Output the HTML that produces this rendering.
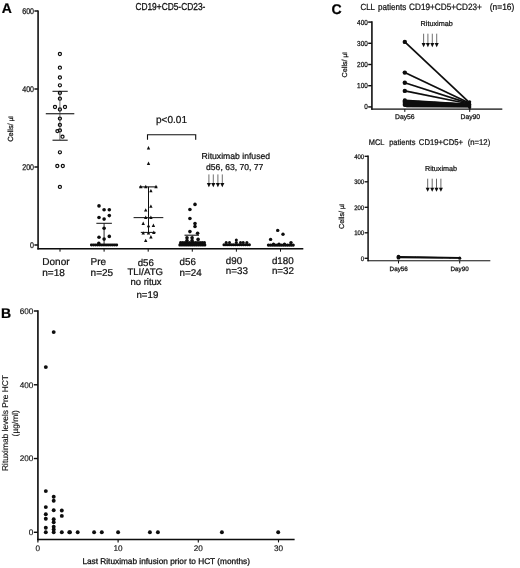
<!DOCTYPE html>
<html><head><meta charset="utf-8"><title>Figure</title>
<style>
html,body{margin:0;padding:0;background:#fff;}
body{width:520px;height:568px;overflow:hidden;font-family:"Liberation Sans",sans-serif;}
svg{display:block;font-family:"Liberation Sans",sans-serif;text-rendering:geometricPrecision;}
</style></head><body>
<svg width="520" height="568" viewBox="0 0 520 568">
<defs><filter id="bl" x="0" y="0" width="100%" height="100%" filterUnits="userSpaceOnUse"><feGaussianBlur stdDeviation="0.35"/></filter></defs>
<rect width="520" height="568" fill="#fff"/>
<g filter="url(#bl)">
<text x="1.70" y="13.10" font-size="14" text-anchor="start" font-weight="bold" fill="#000" stroke="#000" stroke-width="0.24">A</text>
<text transform="translate(135.40 10.45) scale(0.8333 1)" font-size="10.04" text-anchor="start" font-weight="normal" fill="#111" stroke="#111" stroke-width="0.3">CD19+CD5-CD23-</text>
<line x1="38.10" y1="10.40" x2="38.10" y2="249.50" stroke="#0a0a0a" stroke-width="1.55" stroke-linecap="butt"/>
<line x1="37.40" y1="248.75" x2="303.30" y2="248.75" stroke="#0a0a0a" stroke-width="1.3" stroke-linecap="butt"/>
<line x1="34.40" y1="11.00" x2="38.10" y2="11.00" stroke="#0a0a0a" stroke-width="1.4" stroke-linecap="butt"/>
<text transform="translate(34.00 14.00) scale(0.85 1)" font-size="8.3" text-anchor="end" font-weight="normal" fill="#111" stroke="#111" stroke-width="0.25">600</text>
<line x1="34.40" y1="89.00" x2="38.10" y2="89.00" stroke="#0a0a0a" stroke-width="1.4" stroke-linecap="butt"/>
<text transform="translate(34.00 92.00) scale(0.85 1)" font-size="8.3" text-anchor="end" font-weight="normal" fill="#111" stroke="#111" stroke-width="0.25">400</text>
<line x1="34.40" y1="167.00" x2="38.10" y2="167.00" stroke="#0a0a0a" stroke-width="1.4" stroke-linecap="butt"/>
<text transform="translate(34.00 170.00) scale(0.85 1)" font-size="8.3" text-anchor="end" font-weight="normal" fill="#111" stroke="#111" stroke-width="0.25">200</text>
<line x1="34.40" y1="245.00" x2="38.10" y2="245.00" stroke="#0a0a0a" stroke-width="1.4" stroke-linecap="butt"/>
<text transform="translate(34.00 248.00) scale(0.85 1)" font-size="8.3" text-anchor="end" font-weight="normal" fill="#111" stroke="#111" stroke-width="0.25">0</text>
<line x1="60.00" y1="248.75" x2="60.00" y2="251.65" stroke="#0a0a0a" stroke-width="1.0" stroke-linecap="butt"/>
<line x1="104.10" y1="248.75" x2="104.10" y2="251.65" stroke="#0a0a0a" stroke-width="1.0" stroke-linecap="butt"/>
<line x1="148.20" y1="248.75" x2="148.20" y2="251.65" stroke="#0a0a0a" stroke-width="1.0" stroke-linecap="butt"/>
<line x1="192.30" y1="248.75" x2="192.30" y2="251.65" stroke="#0a0a0a" stroke-width="1.0" stroke-linecap="butt"/>
<line x1="236.40" y1="248.75" x2="236.40" y2="251.65" stroke="#0a0a0a" stroke-width="1.0" stroke-linecap="butt"/>
<line x1="280.50" y1="248.75" x2="280.50" y2="251.65" stroke="#0a0a0a" stroke-width="1.0" stroke-linecap="butt"/>
<text x="12.60" y="141.80" font-size="7.4" text-anchor="start" font-weight="normal" fill="#111" transform="rotate(-90 12.60 141.80)" stroke="#111" stroke-width="0.25">Cells/ <tspan font-size="6.3">µl</tspan></text>
<circle cx="59.90" cy="54.00" r="1.55" fill="#fff" stroke="#0a0a0a" stroke-width="1.2"/>
<circle cx="59.90" cy="67.70" r="1.55" fill="#fff" stroke="#0a0a0a" stroke-width="1.2"/>
<circle cx="59.90" cy="77.50" r="1.55" fill="#fff" stroke="#0a0a0a" stroke-width="1.2"/>
<circle cx="59.90" cy="85.30" r="1.55" fill="#fff" stroke="#0a0a0a" stroke-width="1.2"/>
<circle cx="59.90" cy="92.90" r="1.55" fill="#fff" stroke="#0a0a0a" stroke-width="1.2"/>
<circle cx="59.90" cy="98.70" r="1.55" fill="#fff" stroke="#0a0a0a" stroke-width="1.2"/>
<circle cx="55.00" cy="107.00" r="1.55" fill="#fff" stroke="#0a0a0a" stroke-width="1.2"/>
<circle cx="65.00" cy="107.00" r="1.55" fill="#fff" stroke="#0a0a0a" stroke-width="1.2"/>
<circle cx="59.90" cy="109.50" r="1.55" fill="#fff" stroke="#0a0a0a" stroke-width="1.2"/>
<circle cx="59.90" cy="118.60" r="1.55" fill="#fff" stroke="#0a0a0a" stroke-width="1.2"/>
<circle cx="59.90" cy="124.90" r="1.55" fill="#fff" stroke="#0a0a0a" stroke-width="1.2"/>
<circle cx="57.40" cy="131.10" r="1.55" fill="#fff" stroke="#0a0a0a" stroke-width="1.2"/>
<circle cx="59.90" cy="130.40" r="1.55" fill="#fff" stroke="#0a0a0a" stroke-width="1.2"/>
<circle cx="62.50" cy="136.70" r="1.55" fill="#fff" stroke="#0a0a0a" stroke-width="1.2"/>
<circle cx="59.90" cy="152.30" r="1.55" fill="#fff" stroke="#0a0a0a" stroke-width="1.2"/>
<circle cx="57.30" cy="166.00" r="1.55" fill="#fff" stroke="#0a0a0a" stroke-width="1.2"/>
<circle cx="62.80" cy="166.00" r="1.55" fill="#fff" stroke="#0a0a0a" stroke-width="1.2"/>
<circle cx="59.90" cy="186.90" r="1.55" fill="#fff" stroke="#0a0a0a" stroke-width="1.2"/>
<line x1="59.90" y1="91.30" x2="59.90" y2="140.20" stroke="#333" stroke-width="0.7" stroke-linecap="butt"/>
<line x1="52.50" y1="91.30" x2="67.70" y2="91.30" stroke="#0a0a0a" stroke-width="1.0" stroke-linecap="butt"/>
<line x1="52.50" y1="140.20" x2="67.70" y2="140.20" stroke="#0a0a0a" stroke-width="1.0" stroke-linecap="butt"/>
<line x1="45.80" y1="113.70" x2="74.30" y2="113.70" stroke="#333" stroke-width="1.3" stroke-linecap="butt"/>
<line x1="104.10" y1="223.30" x2="104.10" y2="245.00" stroke="#111" stroke-width="0.9" stroke-linecap="butt"/>
<line x1="96.40" y1="223.30" x2="111.90" y2="223.30" stroke="#0a0a0a" stroke-width="1.0" stroke-linecap="butt"/>
<circle cx="99.00" cy="205.90" r="1.78" fill="#0a0a0a"/>
<circle cx="104.10" cy="209.80" r="1.78" fill="#0a0a0a"/>
<circle cx="109.30" cy="209.80" r="1.78" fill="#0a0a0a"/>
<circle cx="99.00" cy="217.50" r="1.78" fill="#0a0a0a"/>
<circle cx="104.10" cy="219.10" r="1.78" fill="#0a0a0a"/>
<circle cx="109.30" cy="215.60" r="1.78" fill="#0a0a0a"/>
<circle cx="104.10" cy="228.20" r="1.78" fill="#0a0a0a"/>
<circle cx="99.00" cy="237.20" r="1.78" fill="#0a0a0a"/>
<circle cx="109.30" cy="236.40" r="1.78" fill="#0a0a0a"/>
<circle cx="104.10" cy="239.10" r="1.78" fill="#0a0a0a"/>
<circle cx="98.80" cy="243.40" r="1.78" fill="#0a0a0a"/>
<circle cx="91.40" cy="245.00" r="1.48" fill="#0a0a0a"/>
<circle cx="93.35" cy="245.00" r="1.48" fill="#0a0a0a"/>
<circle cx="95.29" cy="245.00" r="1.48" fill="#0a0a0a"/>
<circle cx="97.24" cy="245.00" r="1.48" fill="#0a0a0a"/>
<circle cx="99.18" cy="245.00" r="1.48" fill="#0a0a0a"/>
<circle cx="101.13" cy="245.00" r="1.48" fill="#0a0a0a"/>
<circle cx="103.08" cy="245.00" r="1.48" fill="#0a0a0a"/>
<circle cx="105.02" cy="245.00" r="1.48" fill="#0a0a0a"/>
<circle cx="106.97" cy="245.00" r="1.48" fill="#0a0a0a"/>
<circle cx="108.92" cy="245.00" r="1.48" fill="#0a0a0a"/>
<circle cx="110.86" cy="245.00" r="1.48" fill="#0a0a0a"/>
<circle cx="112.81" cy="245.00" r="1.48" fill="#0a0a0a"/>
<circle cx="114.75" cy="245.00" r="1.48" fill="#0a0a0a"/>
<circle cx="116.70" cy="245.00" r="1.48" fill="#0a0a0a"/>
<line x1="148.50" y1="186.90" x2="148.50" y2="232.40" stroke="#111" stroke-width="1.0" stroke-linecap="butt"/>
<line x1="139.20" y1="186.90" x2="157.30" y2="186.90" stroke="#0a0a0a" stroke-width="1.0" stroke-linecap="butt"/>
<line x1="133.60" y1="217.60" x2="163.30" y2="217.60" stroke="#222" stroke-width="1.1" stroke-linecap="butt"/>
<line x1="140.80" y1="232.40" x2="155.60" y2="232.40" stroke="#0a0a0a" stroke-width="1.0" stroke-linecap="butt"/>
<path d="M148.50 146.10 L150.20 149.50 L146.80 149.50Z" fill="#0a0a0a"/>
<path d="M148.50 161.50 L150.20 164.90 L146.80 164.90Z" fill="#0a0a0a"/>
<path d="M140.80 184.80 L142.50 188.20 L139.10 188.20Z" fill="#0a0a0a"/>
<path d="M145.80 184.80 L147.50 188.20 L144.10 188.20Z" fill="#0a0a0a"/>
<path d="M156.00 184.80 L157.70 188.20 L154.30 188.20Z" fill="#0a0a0a"/>
<path d="M150.90 188.90 L152.60 192.30 L149.20 192.30Z" fill="#0a0a0a"/>
<path d="M150.90 204.40 L152.60 207.80 L149.20 207.80Z" fill="#0a0a0a"/>
<path d="M145.70 208.20 L147.40 211.60 L144.00 211.60Z" fill="#0a0a0a"/>
<path d="M145.70 215.50 L147.40 218.90 L144.00 218.90Z" fill="#0a0a0a"/>
<path d="M150.90 215.50 L152.60 218.90 L149.20 218.90Z" fill="#0a0a0a"/>
<path d="M143.20 221.60 L144.90 225.00 L141.50 225.00Z" fill="#0a0a0a"/>
<path d="M148.50 223.90 L150.20 227.30 L146.80 227.30Z" fill="#0a0a0a"/>
<path d="M153.40 223.60 L155.10 227.00 L151.70 227.00Z" fill="#0a0a0a"/>
<path d="M143.20 231.20 L144.90 234.60 L141.50 234.60Z" fill="#0a0a0a"/>
<path d="M148.50 231.20 L150.20 234.60 L146.80 234.60Z" fill="#0a0a0a"/>
<path d="M153.80 230.50 L155.50 233.90 L152.10 233.90Z" fill="#0a0a0a"/>
<path d="M150.90 235.10 L152.60 238.50 L149.20 238.50Z" fill="#0a0a0a"/>
<path d="M145.70 238.70 L147.40 242.10 L144.00 242.10Z" fill="#0a0a0a"/>
<path d="M147.5 139.8 V134.7 H195.7 V139.8" fill="none" stroke="#0a0a0a" stroke-width="1.1"/>
<text x="156.00" y="123.00" font-size="10.05" text-anchor="start" font-weight="normal" fill="#111" stroke="#111" stroke-width="0.24">p&lt;0.01</text>
<line x1="184.50" y1="235.20" x2="199.00" y2="235.20" stroke="#0a0a0a" stroke-width="1.0" stroke-linecap="butt"/>
<line x1="192.30" y1="235.20" x2="192.30" y2="244.00" stroke="#222" stroke-width="0.7" stroke-linecap="butt"/>
<circle cx="195.00" cy="204.40" r="1.78" fill="#0a0a0a"/>
<circle cx="189.90" cy="209.50" r="1.78" fill="#0a0a0a"/>
<circle cx="189.90" cy="218.50" r="1.78" fill="#0a0a0a"/>
<circle cx="195.00" cy="223.60" r="1.78" fill="#0a0a0a"/>
<circle cx="195.00" cy="226.50" r="1.78" fill="#0a0a0a"/>
<circle cx="189.90" cy="231.60" r="1.78" fill="#0a0a0a"/>
<circle cx="197.60" cy="233.30" r="1.78" fill="#0a0a0a"/>
<circle cx="187.00" cy="237.80" r="1.78" fill="#0a0a0a"/>
<circle cx="192.10" cy="237.80" r="1.78" fill="#0a0a0a"/>
<circle cx="198.10" cy="239.40" r="1.78" fill="#0a0a0a"/>
<circle cx="187.00" cy="240.60" r="1.78" fill="#0a0a0a"/>
<circle cx="192.10" cy="240.60" r="1.78" fill="#0a0a0a"/>
<circle cx="180.60" cy="242.70" r="1.6" fill="#0a0a0a"/>
<circle cx="182.76" cy="242.70" r="1.6" fill="#0a0a0a"/>
<circle cx="184.93" cy="242.70" r="1.6" fill="#0a0a0a"/>
<circle cx="187.09" cy="242.70" r="1.6" fill="#0a0a0a"/>
<circle cx="189.25" cy="242.70" r="1.6" fill="#0a0a0a"/>
<circle cx="191.42" cy="242.70" r="1.6" fill="#0a0a0a"/>
<circle cx="193.58" cy="242.70" r="1.6" fill="#0a0a0a"/>
<circle cx="195.75" cy="242.70" r="1.6" fill="#0a0a0a"/>
<circle cx="197.91" cy="242.70" r="1.6" fill="#0a0a0a"/>
<circle cx="200.07" cy="242.70" r="1.6" fill="#0a0a0a"/>
<circle cx="202.24" cy="242.70" r="1.6" fill="#0a0a0a"/>
<circle cx="204.40" cy="242.70" r="1.6" fill="#0a0a0a"/>
<circle cx="179.90" cy="244.90" r="1.6" fill="#0a0a0a"/>
<circle cx="181.97" cy="244.90" r="1.6" fill="#0a0a0a"/>
<circle cx="184.05" cy="244.90" r="1.6" fill="#0a0a0a"/>
<circle cx="186.12" cy="244.90" r="1.6" fill="#0a0a0a"/>
<circle cx="188.20" cy="244.90" r="1.6" fill="#0a0a0a"/>
<circle cx="190.28" cy="244.90" r="1.6" fill="#0a0a0a"/>
<circle cx="192.35" cy="244.90" r="1.6" fill="#0a0a0a"/>
<circle cx="194.43" cy="244.90" r="1.6" fill="#0a0a0a"/>
<circle cx="196.50" cy="244.90" r="1.6" fill="#0a0a0a"/>
<circle cx="198.58" cy="244.90" r="1.6" fill="#0a0a0a"/>
<circle cx="200.65" cy="244.90" r="1.6" fill="#0a0a0a"/>
<circle cx="202.73" cy="244.90" r="1.6" fill="#0a0a0a"/>
<circle cx="204.80" cy="244.90" r="1.6" fill="#0a0a0a"/>
<circle cx="224.00" cy="244.80" r="1.55" fill="#0a0a0a"/>
<circle cx="225.95" cy="244.80" r="1.55" fill="#0a0a0a"/>
<circle cx="227.91" cy="244.80" r="1.55" fill="#0a0a0a"/>
<circle cx="229.86" cy="244.80" r="1.55" fill="#0a0a0a"/>
<circle cx="231.82" cy="244.80" r="1.55" fill="#0a0a0a"/>
<circle cx="233.77" cy="244.80" r="1.55" fill="#0a0a0a"/>
<circle cx="235.72" cy="244.80" r="1.55" fill="#0a0a0a"/>
<circle cx="237.68" cy="244.80" r="1.55" fill="#0a0a0a"/>
<circle cx="239.63" cy="244.80" r="1.55" fill="#0a0a0a"/>
<circle cx="241.58" cy="244.80" r="1.55" fill="#0a0a0a"/>
<circle cx="243.54" cy="244.80" r="1.55" fill="#0a0a0a"/>
<circle cx="245.49" cy="244.80" r="1.55" fill="#0a0a0a"/>
<circle cx="247.45" cy="244.80" r="1.55" fill="#0a0a0a"/>
<circle cx="249.40" cy="244.80" r="1.55" fill="#0a0a0a"/>
<circle cx="226.20" cy="242.60" r="1.5" fill="#0a0a0a"/>
<circle cx="229.50" cy="242.60" r="1.5" fill="#0a0a0a"/>
<circle cx="236.30" cy="242.60" r="1.5" fill="#0a0a0a"/>
<circle cx="240.50" cy="242.60" r="1.5" fill="#0a0a0a"/>
<circle cx="243.20" cy="242.60" r="1.5" fill="#0a0a0a"/>
<circle cx="246.90" cy="242.60" r="1.5" fill="#0a0a0a"/>
<circle cx="236.30" cy="240.00" r="1.5" fill="#0a0a0a"/>
<circle cx="268.40" cy="245.10" r="1.6" fill="#0a0a0a"/>
<circle cx="270.31" cy="245.10" r="1.6" fill="#0a0a0a"/>
<circle cx="272.22" cy="245.10" r="1.6" fill="#0a0a0a"/>
<circle cx="274.12" cy="245.10" r="1.6" fill="#0a0a0a"/>
<circle cx="276.03" cy="245.10" r="1.6" fill="#0a0a0a"/>
<circle cx="277.94" cy="245.10" r="1.6" fill="#0a0a0a"/>
<circle cx="279.85" cy="245.10" r="1.6" fill="#0a0a0a"/>
<circle cx="281.75" cy="245.10" r="1.6" fill="#0a0a0a"/>
<circle cx="283.66" cy="245.10" r="1.6" fill="#0a0a0a"/>
<circle cx="285.57" cy="245.10" r="1.6" fill="#0a0a0a"/>
<circle cx="287.48" cy="245.10" r="1.6" fill="#0a0a0a"/>
<circle cx="289.38" cy="245.10" r="1.6" fill="#0a0a0a"/>
<circle cx="291.29" cy="245.10" r="1.6" fill="#0a0a0a"/>
<circle cx="293.20" cy="245.10" r="1.6" fill="#0a0a0a"/>
<circle cx="277.70" cy="230.40" r="1.7" fill="#0a0a0a"/>
<circle cx="283.00" cy="234.20" r="1.7" fill="#0a0a0a"/>
<circle cx="270.60" cy="239.40" r="1.7" fill="#0a0a0a"/>
<circle cx="291.00" cy="242.60" r="1.7" fill="#0a0a0a"/>
<circle cx="273.50" cy="244.00" r="1.6" fill="#0a0a0a"/>
<circle cx="279.00" cy="244.00" r="1.6" fill="#0a0a0a"/>
<circle cx="284.50" cy="244.00" r="1.6" fill="#0a0a0a"/>
<text x="201.50" y="158.90" font-size="8.64" text-anchor="start" font-weight="normal" fill="#111" stroke="#111" stroke-width="0.24">Rituximab infused</text>
<text x="206.10" y="169.50" font-size="8.57" text-anchor="start" font-weight="normal" fill="#111" stroke="#111" stroke-width="0.24">d56, 63, 70, 77</text>
<line x1="208.90" y1="174.40" x2="208.90" y2="183.60" stroke="#333" stroke-width="0.7" stroke-linecap="butt"/>
<path d="M206.80 183.10 L211.00 183.10 L208.90 187.30Z" fill="#0a0a0a"/>
<line x1="213.30" y1="174.40" x2="213.30" y2="183.60" stroke="#333" stroke-width="0.7" stroke-linecap="butt"/>
<path d="M211.20 183.10 L215.40 183.10 L213.30 187.30Z" fill="#0a0a0a"/>
<line x1="217.90" y1="174.40" x2="217.90" y2="183.60" stroke="#333" stroke-width="0.7" stroke-linecap="butt"/>
<path d="M215.80 183.10 L220.00 183.10 L217.90 187.30Z" fill="#0a0a0a"/>
<line x1="222.30" y1="174.40" x2="222.30" y2="183.60" stroke="#333" stroke-width="0.7" stroke-linecap="butt"/>
<path d="M220.20 183.10 L224.40 183.10 L222.30 187.30Z" fill="#0a0a0a"/>
<text x="42.30" y="264.50" font-size="10" text-anchor="start" font-weight="normal" fill="#111" stroke="#111" stroke-width="0.24">Donor</text>
<text x="42.30" y="276.00" font-size="10" text-anchor="start" font-weight="normal" fill="#111" stroke="#111" stroke-width="0.24">n=18</text>
<text x="90.60" y="264.50" font-size="10" text-anchor="start" font-weight="normal" fill="#111" stroke="#111" stroke-width="0.24">Pre</text>
<text x="90.60" y="276.00" font-size="10" text-anchor="start" font-weight="normal" fill="#111" stroke="#111" stroke-width="0.24">n=25</text>
<text x="145.80" y="266.20" font-size="9.7" text-anchor="middle" font-weight="normal" fill="#111" stroke="#111" stroke-width="0.24">d56</text>
<text x="145.20" y="275.30" font-size="9.6" text-anchor="middle" font-weight="normal" fill="#111" stroke="#111" stroke-width="0.24">TLI/ATG</text>
<text x="146.00" y="285.30" font-size="9.5" text-anchor="middle" font-weight="normal" fill="#111" stroke="#111" stroke-width="0.24">no ritux</text>
<text x="147.40" y="297.80" font-size="9.7" text-anchor="middle" font-weight="normal" fill="#111" stroke="#111" stroke-width="0.24">n=19</text>
<text x="179.60" y="264.50" font-size="9.8" text-anchor="start" font-weight="normal" fill="#111" stroke="#111" stroke-width="0.24">d56</text>
<text x="179.60" y="276.00" font-size="9.8" text-anchor="start" font-weight="normal" fill="#111" stroke="#111" stroke-width="0.24">n=24</text>
<text x="225.80" y="263.60" font-size="9.8" text-anchor="start" font-weight="normal" fill="#111" stroke="#111" stroke-width="0.24">d90</text>
<text x="225.80" y="274.20" font-size="9.8" text-anchor="start" font-weight="normal" fill="#111" stroke="#111" stroke-width="0.24">n=33</text>
<text x="271.90" y="263.60" font-size="9.8" text-anchor="start" font-weight="normal" fill="#111" stroke="#111" stroke-width="0.24">d180</text>
<text x="271.90" y="274.20" font-size="9.8" text-anchor="start" font-weight="normal" fill="#111" stroke="#111" stroke-width="0.24">n=32</text>
<text x="0.90" y="318.30" font-size="14" text-anchor="start" font-weight="bold" fill="#000" stroke="#000" stroke-width="0.24">B</text>
<line x1="37.90" y1="310.30" x2="37.90" y2="540.35" stroke="#0a0a0a" stroke-width="1.6" stroke-linecap="butt"/>
<line x1="37.20" y1="539.60" x2="294.60" y2="539.60" stroke="#0a0a0a" stroke-width="1.5" stroke-linecap="butt"/>
<line x1="33.80" y1="311.00" x2="37.90" y2="311.00" stroke="#0a0a0a" stroke-width="1.4" stroke-linecap="butt"/>
<text x="33.30" y="313.95" font-size="8.2" text-anchor="end" font-weight="normal" fill="#111" stroke="#111" stroke-width="0.15">600</text>
<line x1="33.80" y1="384.77" x2="37.90" y2="384.77" stroke="#0a0a0a" stroke-width="1.4" stroke-linecap="butt"/>
<text x="33.30" y="387.72" font-size="8.2" text-anchor="end" font-weight="normal" fill="#111" stroke="#111" stroke-width="0.15">400</text>
<line x1="33.80" y1="458.53" x2="37.90" y2="458.53" stroke="#0a0a0a" stroke-width="1.4" stroke-linecap="butt"/>
<text x="33.30" y="461.48" font-size="8.2" text-anchor="end" font-weight="normal" fill="#111" stroke="#111" stroke-width="0.15">200</text>
<line x1="33.80" y1="532.30" x2="37.90" y2="532.30" stroke="#0a0a0a" stroke-width="1.4" stroke-linecap="butt"/>
<text x="33.30" y="535.25" font-size="8.2" text-anchor="end" font-weight="normal" fill="#111" stroke="#111" stroke-width="0.15">0</text>
<line x1="37.90" y1="539.60" x2="37.90" y2="542.40" stroke="#0a0a0a" stroke-width="1.1" stroke-linecap="butt"/>
<text x="37.90" y="550.90" font-size="8.2" text-anchor="middle" font-weight="normal" fill="#111" stroke="#111" stroke-width="0.15">0</text>
<line x1="118.10" y1="539.60" x2="118.10" y2="542.40" stroke="#0a0a0a" stroke-width="1.1" stroke-linecap="butt"/>
<text x="118.10" y="550.90" font-size="8.2" text-anchor="middle" font-weight="normal" fill="#111" stroke="#111" stroke-width="0.15">10</text>
<line x1="198.30" y1="539.60" x2="198.30" y2="542.40" stroke="#0a0a0a" stroke-width="1.1" stroke-linecap="butt"/>
<text x="198.30" y="550.90" font-size="8.2" text-anchor="middle" font-weight="normal" fill="#111" stroke="#111" stroke-width="0.15">20</text>
<line x1="278.50" y1="539.60" x2="278.50" y2="542.40" stroke="#0a0a0a" stroke-width="1.1" stroke-linecap="butt"/>
<text x="278.50" y="550.90" font-size="8.2" text-anchor="middle" font-weight="normal" fill="#111" stroke="#111" stroke-width="0.15">30</text>
<text x="7.90" y="471.00" font-size="8.4" text-anchor="start" font-weight="normal" fill="#111" transform="rotate(-90 7.90 471.00)" stroke="#111" stroke-width="0.15">Rituximab levels Pre HCT</text>
<text x="17.60" y="436.40" font-size="8.4" text-anchor="start" font-weight="normal" fill="#111" transform="rotate(-90 17.60 436.40)" stroke="#111" stroke-width="0.15">(µg/ml)</text>
<text x="82.40" y="564.30" font-size="8.28" text-anchor="start" font-weight="normal" fill="#111" stroke="#111" stroke-width="0.28">Last Rituximab infusion prior to HCT (months)</text>
<circle cx="53.70" cy="332.10" r="1.95" fill="#0a0a0a"/>
<circle cx="45.80" cy="367.10" r="1.95" fill="#0a0a0a"/>
<circle cx="45.80" cy="491.10" r="1.95" fill="#0a0a0a"/>
<circle cx="45.80" cy="507.10" r="1.95" fill="#0a0a0a"/>
<circle cx="45.80" cy="514.30" r="1.95" fill="#0a0a0a"/>
<circle cx="45.80" cy="518.80" r="1.95" fill="#0a0a0a"/>
<circle cx="45.80" cy="527.80" r="1.95" fill="#0a0a0a"/>
<circle cx="45.80" cy="532.30" r="1.95" fill="#0a0a0a"/>
<circle cx="53.70" cy="496.80" r="1.95" fill="#0a0a0a"/>
<circle cx="53.70" cy="500.80" r="1.95" fill="#0a0a0a"/>
<circle cx="53.70" cy="510.30" r="1.95" fill="#0a0a0a"/>
<circle cx="53.70" cy="519.30" r="1.95" fill="#0a0a0a"/>
<circle cx="53.70" cy="522.20" r="1.95" fill="#0a0a0a"/>
<circle cx="53.70" cy="526.70" r="1.95" fill="#0a0a0a"/>
<circle cx="53.70" cy="529.40" r="1.95" fill="#0a0a0a"/>
<circle cx="53.70" cy="532.30" r="1.95" fill="#0a0a0a"/>
<circle cx="61.80" cy="510.50" r="1.95" fill="#0a0a0a"/>
<circle cx="61.80" cy="515.90" r="1.95" fill="#0a0a0a"/>
<circle cx="61.80" cy="532.30" r="1.95" fill="#0a0a0a"/>
<circle cx="69.30" cy="532.30" r="1.95" fill="#0a0a0a"/>
<circle cx="70.00" cy="532.30" r="1.95" fill="#0a0a0a"/>
<circle cx="77.70" cy="532.30" r="1.95" fill="#0a0a0a"/>
<circle cx="94.10" cy="532.30" r="1.95" fill="#0a0a0a"/>
<circle cx="101.80" cy="532.30" r="1.95" fill="#0a0a0a"/>
<circle cx="118.10" cy="532.30" r="1.95" fill="#0a0a0a"/>
<circle cx="149.90" cy="532.30" r="1.95" fill="#0a0a0a"/>
<circle cx="157.90" cy="532.30" r="1.95" fill="#0a0a0a"/>
<circle cx="221.90" cy="532.30" r="1.95" fill="#0a0a0a"/>
<circle cx="278.20" cy="532.30" r="1.95" fill="#0a0a0a"/>
<text x="331.40" y="13.80" font-size="14" text-anchor="start" font-weight="bold" fill="#000" stroke="#000" stroke-width="0.24">C</text>
<text transform="translate(360.40 10.45) scale(0.8929 1)" font-size="8.92" text-anchor="start" font-weight="normal" fill="#111" stroke="#111" stroke-width="0.24">CLL</text>
<text transform="translate(378.10 10.45) scale(0.8929 1)" font-size="9.05" text-anchor="start" font-weight="normal" fill="#111" stroke="#111" stroke-width="0.24">patients</text>
<text transform="translate(409.10 10.45) scale(0.8929 1)" font-size="9.2" text-anchor="start" font-weight="normal" fill="#111" stroke="#111" stroke-width="0.24">CD19+CD5+CD23+</text>
<text transform="translate(489.80 10.45) scale(0.9091 1)" font-size="9.24" text-anchor="start" font-weight="normal" fill="#111" stroke="#111" stroke-width="0.24">(n=16)</text>
<line x1="371.90" y1="21.30" x2="371.90" y2="109.75" stroke="#0a0a0a" stroke-width="1.55" stroke-linecap="butt"/>
<line x1="371.25" y1="109.15" x2="502.30" y2="109.15" stroke="#0a0a0a" stroke-width="1.15" stroke-linecap="butt"/>
<line x1="368.20" y1="22.10" x2="371.90" y2="22.10" stroke="#0a0a0a" stroke-width="1.4" stroke-linecap="butt"/>
<text transform="translate(367.80 24.65) scale(0.89 1)" font-size="7.2" text-anchor="end" font-weight="normal" fill="#111" stroke="#111" stroke-width="0.25">400</text>
<line x1="368.20" y1="43.30" x2="371.90" y2="43.30" stroke="#0a0a0a" stroke-width="1.4" stroke-linecap="butt"/>
<text transform="translate(367.80 45.85) scale(0.89 1)" font-size="7.2" text-anchor="end" font-weight="normal" fill="#111" stroke="#111" stroke-width="0.25">300</text>
<line x1="368.20" y1="64.50" x2="371.90" y2="64.50" stroke="#0a0a0a" stroke-width="1.4" stroke-linecap="butt"/>
<text transform="translate(367.80 67.05) scale(0.89 1)" font-size="7.2" text-anchor="end" font-weight="normal" fill="#111" stroke="#111" stroke-width="0.25">200</text>
<line x1="368.20" y1="85.70" x2="371.90" y2="85.70" stroke="#0a0a0a" stroke-width="1.4" stroke-linecap="butt"/>
<text transform="translate(367.80 88.25) scale(0.89 1)" font-size="7.2" text-anchor="end" font-weight="normal" fill="#111" stroke="#111" stroke-width="0.25">100</text>
<line x1="368.20" y1="106.90" x2="371.90" y2="106.90" stroke="#0a0a0a" stroke-width="1.4" stroke-linecap="butt"/>
<text transform="translate(367.80 109.45) scale(0.89 1)" font-size="7.2" text-anchor="end" font-weight="normal" fill="#111" stroke="#111" stroke-width="0.25">0</text>
<text x="347.00" y="77.40" font-size="7.2" text-anchor="start" font-weight="normal" fill="#111" transform="rotate(-90 347.00 77.40)" stroke="#111" stroke-width="0.25">Cells/ <tspan font-size="6.3">µl</tspan></text>
<line x1="404.80" y1="109.15" x2="404.80" y2="111.85" stroke="#0a0a0a" stroke-width="1.0" stroke-linecap="butt"/>
<line x1="469.70" y1="109.15" x2="469.70" y2="111.85" stroke="#0a0a0a" stroke-width="1.0" stroke-linecap="butt"/>
<text x="404.80" y="118.80" font-size="6.8" text-anchor="middle" font-weight="normal" fill="#111" stroke="#111" stroke-width="0.25">Day56</text>
<text x="470.30" y="118.80" font-size="6.8" text-anchor="middle" font-weight="normal" fill="#111" stroke="#111" stroke-width="0.25">Day90</text>
<line x1="406.30" y1="107.90" x2="468.40" y2="107.90" stroke="#8a8a8a" stroke-width="1.5" stroke-linecap="butt"/>
<line x1="404.80" y1="41.90" x2="469.70" y2="102.80" stroke="#0a0a0a" stroke-width="1.7" stroke-linecap="butt"/>
<line x1="404.80" y1="72.60" x2="469.70" y2="103.30" stroke="#0a0a0a" stroke-width="1.7" stroke-linecap="butt"/>
<line x1="404.80" y1="82.80" x2="469.70" y2="103.60" stroke="#0a0a0a" stroke-width="1.7" stroke-linecap="butt"/>
<line x1="404.80" y1="90.90" x2="469.70" y2="104.00" stroke="#0a0a0a" stroke-width="1.7" stroke-linecap="butt"/>
<line x1="404.80" y1="100.30" x2="469.70" y2="104.30" stroke="#0a0a0a" stroke-width="1.7" stroke-linecap="butt"/>
<line x1="404.80" y1="100.90" x2="469.70" y2="104.50" stroke="#0a0a0a" stroke-width="1.7" stroke-linecap="butt"/>
<line x1="404.80" y1="101.50" x2="469.70" y2="104.70" stroke="#0a0a0a" stroke-width="1.7" stroke-linecap="butt"/>
<line x1="404.80" y1="102.10" x2="469.70" y2="104.90" stroke="#0a0a0a" stroke-width="1.7" stroke-linecap="butt"/>
<line x1="404.80" y1="102.70" x2="469.70" y2="105.10" stroke="#0a0a0a" stroke-width="1.7" stroke-linecap="butt"/>
<line x1="404.80" y1="103.30" x2="469.70" y2="105.30" stroke="#0a0a0a" stroke-width="1.7" stroke-linecap="butt"/>
<line x1="404.80" y1="103.90" x2="469.70" y2="105.50" stroke="#0a0a0a" stroke-width="1.7" stroke-linecap="butt"/>
<line x1="404.80" y1="104.50" x2="469.70" y2="105.70" stroke="#0a0a0a" stroke-width="1.7" stroke-linecap="butt"/>
<line x1="404.80" y1="105.00" x2="469.70" y2="105.90" stroke="#0a0a0a" stroke-width="1.7" stroke-linecap="butt"/>
<line x1="404.80" y1="105.40" x2="469.70" y2="106.10" stroke="#0a0a0a" stroke-width="1.7" stroke-linecap="butt"/>
<line x1="404.80" y1="105.80" x2="469.70" y2="106.30" stroke="#0a0a0a" stroke-width="1.7" stroke-linecap="butt"/>
<line x1="404.80" y1="106.10" x2="469.70" y2="106.40" stroke="#0a0a0a" stroke-width="1.7" stroke-linecap="butt"/>
<circle cx="404.80" cy="41.90" r="2.2" fill="#0a0a0a"/>
<circle cx="404.80" cy="72.60" r="2.2" fill="#0a0a0a"/>
<circle cx="404.80" cy="82.80" r="2.2" fill="#0a0a0a"/>
<circle cx="404.80" cy="90.90" r="2.2" fill="#0a0a0a"/>
<circle cx="404.80" cy="100.40" r="2.1" fill="#0a0a0a"/>
<circle cx="404.80" cy="101.60" r="2.1" fill="#0a0a0a"/>
<circle cx="404.80" cy="102.80" r="2.1" fill="#0a0a0a"/>
<circle cx="404.80" cy="104.00" r="2.1" fill="#0a0a0a"/>
<circle cx="404.80" cy="105.00" r="2.1" fill="#0a0a0a"/>
<circle cx="469.70" cy="101.80" r="1.5" fill="#0a0a0a"/>
<circle cx="469.70" cy="103.00" r="1.5" fill="#0a0a0a"/>
<circle cx="469.70" cy="104.20" r="1.5" fill="#0a0a0a"/>
<circle cx="469.70" cy="105.40" r="1.5" fill="#0a0a0a"/>
<circle cx="469.70" cy="106.60" r="1.5" fill="#0a0a0a"/>
<circle cx="469.70" cy="107.40" r="1.5" fill="#0a0a0a"/>
<text x="420.60" y="25.80" font-size="7.22" text-anchor="start" font-weight="normal" fill="#111" stroke="#111" stroke-width="0.24">Rituximab</text>
<line x1="423.60" y1="33.70" x2="423.60" y2="43.60" stroke="#333" stroke-width="0.7" stroke-linecap="butt"/>
<path d="M421.60 43.10 L425.60 43.10 L423.60 47.30Z" fill="#0a0a0a"/>
<line x1="427.90" y1="33.70" x2="427.90" y2="43.60" stroke="#333" stroke-width="0.7" stroke-linecap="butt"/>
<path d="M425.90 43.10 L429.90 43.10 L427.90 47.30Z" fill="#0a0a0a"/>
<line x1="432.30" y1="33.70" x2="432.30" y2="43.60" stroke="#333" stroke-width="0.7" stroke-linecap="butt"/>
<path d="M430.30 43.10 L434.30 43.10 L432.30 47.30Z" fill="#0a0a0a"/>
<line x1="436.70" y1="33.70" x2="436.70" y2="43.60" stroke="#333" stroke-width="0.7" stroke-linecap="butt"/>
<path d="M434.70 43.10 L438.70 43.10 L436.70 47.30Z" fill="#0a0a0a"/>
<text transform="translate(368.80 145.00) scale(0.9091 1)" font-size="8.13" text-anchor="start" font-weight="normal" fill="#111" stroke="#111" stroke-width="0.24">MCL</text>
<text transform="translate(389.20 145.00) scale(0.9259 1)" font-size="8.11" text-anchor="start" font-weight="normal" fill="#111" stroke="#111" stroke-width="0.24">patients</text>
<text transform="translate(418.80 145.00) scale(0.9259 1)" font-size="8.36" text-anchor="start" font-weight="normal" fill="#111" stroke="#111" stroke-width="0.24">CD19+CD5+</text>
<text transform="translate(467.70 145.00) scale(0.9259 1)" font-size="8.33" text-anchor="start" font-weight="normal" fill="#111" stroke="#111" stroke-width="0.24">(n=12)</text>
<line x1="368.10" y1="155.50" x2="368.10" y2="261.30" stroke="#0a0a0a" stroke-width="1.45" stroke-linecap="butt"/>
<line x1="367.45" y1="260.70" x2="490.30" y2="260.70" stroke="#0a0a0a" stroke-width="1.15" stroke-linecap="butt"/>
<line x1="364.60" y1="156.30" x2="368.10" y2="156.30" stroke="#0a0a0a" stroke-width="1.3" stroke-linecap="butt"/>
<text transform="translate(364.20 158.65) scale(0.91 1)" font-size="6.6" text-anchor="end" font-weight="normal" fill="#111" stroke="#111" stroke-width="0.25">400</text>
<line x1="364.60" y1="181.80" x2="368.10" y2="181.80" stroke="#0a0a0a" stroke-width="1.3" stroke-linecap="butt"/>
<text transform="translate(364.20 184.15) scale(0.91 1)" font-size="6.6" text-anchor="end" font-weight="normal" fill="#111" stroke="#111" stroke-width="0.25">300</text>
<line x1="364.60" y1="207.30" x2="368.10" y2="207.30" stroke="#0a0a0a" stroke-width="1.3" stroke-linecap="butt"/>
<text transform="translate(364.20 209.65) scale(0.91 1)" font-size="6.6" text-anchor="end" font-weight="normal" fill="#111" stroke="#111" stroke-width="0.25">200</text>
<line x1="364.60" y1="232.80" x2="368.10" y2="232.80" stroke="#0a0a0a" stroke-width="1.3" stroke-linecap="butt"/>
<text transform="translate(364.20 235.15) scale(0.91 1)" font-size="6.6" text-anchor="end" font-weight="normal" fill="#111" stroke="#111" stroke-width="0.25">100</text>
<line x1="364.60" y1="258.30" x2="368.10" y2="258.30" stroke="#0a0a0a" stroke-width="1.3" stroke-linecap="butt"/>
<text transform="translate(364.20 260.65) scale(0.91 1)" font-size="6.6" text-anchor="end" font-weight="normal" fill="#111" stroke="#111" stroke-width="0.25">0</text>
<text x="343.60" y="229.00" font-size="7.2" text-anchor="start" font-weight="normal" fill="#111" transform="rotate(-90 343.60 229.00)" stroke="#111" stroke-width="0.25">Cells/ <tspan font-size="6.3">µl</tspan></text>
<line x1="398.50" y1="260.70" x2="398.50" y2="263.40" stroke="#0a0a0a" stroke-width="1.0" stroke-linecap="butt"/>
<line x1="459.70" y1="260.70" x2="459.70" y2="263.40" stroke="#0a0a0a" stroke-width="1.0" stroke-linecap="butt"/>
<text x="398.70" y="270.80" font-size="6.3" text-anchor="middle" font-weight="normal" fill="#111" stroke="#111" stroke-width="0.25">Day56</text>
<text x="459.60" y="270.80" font-size="6.3" text-anchor="middle" font-weight="normal" fill="#111" stroke="#111" stroke-width="0.25">Day90</text>
<line x1="398.50" y1="256.60" x2="459.70" y2="257.70" stroke="#0a0a0a" stroke-width="1.3" stroke-linecap="butt"/>
<line x1="398.50" y1="257.20" x2="459.70" y2="257.90" stroke="#0a0a0a" stroke-width="1.3" stroke-linecap="butt"/>
<line x1="398.50" y1="257.70" x2="459.70" y2="258.10" stroke="#0a0a0a" stroke-width="1.3" stroke-linecap="butt"/>
<circle cx="398.50" cy="256.70" r="1.9" fill="#0a0a0a"/>
<circle cx="398.50" cy="257.70" r="1.9" fill="#0a0a0a"/>
<circle cx="459.70" cy="258.20" r="1.6" fill="#0a0a0a"/>
<text x="425.00" y="170.60" font-size="7.2" text-anchor="start" font-weight="normal" fill="#111" stroke="#111" stroke-width="0.24">Rituximab</text>
<line x1="427.70" y1="178.70" x2="427.70" y2="188.20" stroke="#555" stroke-width="0.9" stroke-linecap="butt"/>
<path d="M425.70 187.70 L429.70 187.70 L427.70 191.70Z" fill="#0a0a0a"/>
<line x1="432.20" y1="178.70" x2="432.20" y2="188.20" stroke="#555" stroke-width="0.9" stroke-linecap="butt"/>
<path d="M430.20 187.70 L434.20 187.70 L432.20 191.70Z" fill="#0a0a0a"/>
<line x1="436.50" y1="178.70" x2="436.50" y2="188.20" stroke="#555" stroke-width="0.9" stroke-linecap="butt"/>
<path d="M434.50 187.70 L438.50 187.70 L436.50 191.70Z" fill="#0a0a0a"/>
<line x1="440.90" y1="178.70" x2="440.90" y2="188.20" stroke="#555" stroke-width="0.9" stroke-linecap="butt"/>
<path d="M438.90 187.70 L442.90 187.70 L440.90 191.70Z" fill="#0a0a0a"/>
</g>
</svg>
</body></html>
